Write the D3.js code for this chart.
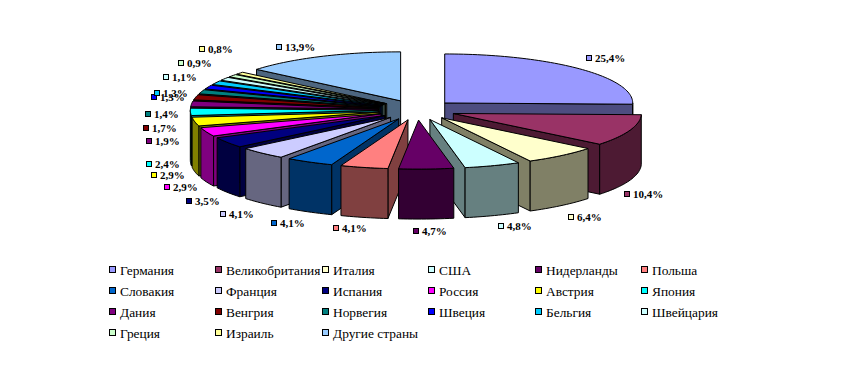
<!DOCTYPE html>
<html>
<head>
<meta charset="utf-8">
<script src="https://cdn.jsdelivr.net/npm/d3@7"></script>
<style>
  html, body { margin: 0; padding: 0; background: #fff; }
  text { font-family: "Liberation Serif", serif; fill: #000; }
</style>
</head>
<body>
<div id="chart"></div>
<script>
const countries = ['Германия', 'Великобритания', 'Италия', 'США', 'Нидерланды', 'Польша', 'Словакия',
    'Франция', 'Испания', 'Россия', 'Австрия', 'Япония', 'Дания', 'Венгрия', 'Норвегия', 'Швеция',
    'Бельгия', 'Швейцария', 'Греция', 'Израиль', 'Другие страны'];
const shares = [25.4, 10.4, 6.4, 4.8, 4.7, 4.1, 4.1, 4.1, 3.5, 2.9, 2.9, 2.4, 1.9, 1.7, 1.4, 1.3, 1.3, 1.1, 0.9, 0.8, 13.9];
const colors = ['#9999FF', '#993366', '#FFFFCC', '#CCFFFF', '#660066', '#FF8080', '#0066CC',
    '#CCCCFF', '#000080', '#FF00FF', '#FFFF00', '#00FFFF', '#800080', '#800000', '#008080', '#0000FF',
    '#00CCFF', '#CCFFFF', '#CCFFCC', '#FFFF99', '#99CCFF'];
// hand tweaks so the data labels land where Excel put them
const labelNudgeX = [16, 2, 16, 17, 0, -17, -23, -26, -24, -25, -26, -26, -27, -34, -38, -39.5, -44, -44, -37.5, -23, -30];
const labelNudgeY = [-13.5, 28, 12, 5, 5, 5, 8, 12, 16, 18, 22, 26, 15, 13, 7, -3, 0, -10, -19, -29, -5.6];

const width = 850, height = 367;
const cx = 417, cy = 110;
const rx = 188, ry = 49;
const depth = 50;
const explode = 38.7;
const tilt = ry / rx;

const svg = d3.select('#chart').append('svg')
    .attr('width', width)
    .attr('height', height)
    .style('display', 'block');

const arcs = d3.pie().sort(null).value(d => d)(shares).map((a, i) => {
    const mid = (a.startAngle + a.endAngle) / 2;
    return {
        i,
        start: a.startAngle,
        end: a.endAngle,
        mid,
        ox: cx + explode * Math.sin(mid),
        oy: cy - explode * tilt * Math.cos(mid)
    };
});

const line = d3.line();
const rim = (s, a) => [s.ox + rx * Math.sin(a), s.oy - ry * Math.cos(a)];
const arcPoints = (s, a0, a1) => {
    const n = Math.max(2, Math.ceil((a1 - a0) * 40));
    return d3.range(n + 1).map(k => rim(s, a0 + (a1 - a0) * k / n));
};
const drop = pts => pts.map(p => [p[0], p[1] + depth]).reverse();
const darker = c => {
    const r = d3.rgb(c);
    return d3.rgb(r.r * 0.5, r.g * 0.5, r.b * 0.5).formatHex();
};

const face = (g, pts, fill) => g.append('path')
    .attr('d', line(pts) + 'Z')
    .attr('fill', fill)
    .attr('stroke', '#000')
    .attr('stroke-width', 1)
    .attr('stroke-linejoin', 'round');

// back to front
const order = arcs.slice().sort((a, b) => d3.descending(Math.cos(a.mid), Math.cos(b.mid)));

const pieG = svg.append('g');
order.forEach(s => {
    const g = pieG.append('g');
    const side = darker(colors[s.i]);
    const apex = [s.ox, s.oy];

    // cut faces, only the ones turned towards the viewer
    if (s.start >= Math.PI) {
        const e = rim(s, s.start);
        face(g, [apex, e, [e[0], e[1] + depth], [apex[0], apex[1] + depth]], side);
    }
    if (s.end <= Math.PI) {
        const e = rim(s, s.end);
        face(g, [apex, e, [e[0], e[1] + depth], [apex[0], apex[1] + depth]], side);
    }

    // outer wall is the part of the rim on the front half
    const a0 = Math.max(s.start, Math.PI / 2);
    const a1 = Math.min(s.end, Math.PI * 1.5);
    if (a1 > a0) {
        const top = arcPoints(s, a0, a1);
        face(g, top.concat(drop(top)), side);
    }

    face(g, [apex].concat(arcPoints(s, s.start, s.end)), colors[s.i]);
});

// data labels
const fmt = v => v.toFixed(1).replace('.', ',') + '%';
const labels = svg.append('g');
arcs.forEach(s => {
    const mx = Math.round(407 + 232 * Math.sin(s.mid) + labelNudgeX[s.i]);
    const my = Math.round(135 - 91 * Math.cos(s.mid) + labelNudgeY[s.i]);
    labels.append('rect')
        .attr('x', mx - 2.5)
        .attr('y', my - 2.5)
        .attr('width', 5)
        .attr('height', 5)
        .attr('fill', colors[s.i])
        .attr('stroke', '#000')
        .attr('stroke-width', 1);
    labels.append('text')
        .attr('x', mx + 6)
        .attr('y', my + 4)
        .attr('font-size', 11)
        .attr('font-weight', 'bold')
        .text(fmt(shares[s.i]));
});

// legend
const perRow = 6;
const colX = d3.scaleLinear().domain([0, perRow - 1]).range([113, 645]);
const rowY = d3.scaleLinear().domain([0, 3]).range([270, 333]);
const legend = svg.append('g');
countries.forEach((name, i) => {
    const x = Math.round(colX(i % perRow));
    const y = Math.round(rowY(Math.floor(i / perRow)));
    legend.append('rect')
        .attr('x', x - 3.5)
        .attr('y', y - 3.5)
        .attr('width', 6)
        .attr('height', 6)
        .attr('fill', colors[i])
        .attr('stroke', '#000')
        .attr('stroke-width', 1);
    legend.append('text')
        .attr('x', x + 7)
        .attr('y', y + 4.5)
        .attr('font-size', 13.4)
        .text(name);
});
</script>
</body>
</html>
